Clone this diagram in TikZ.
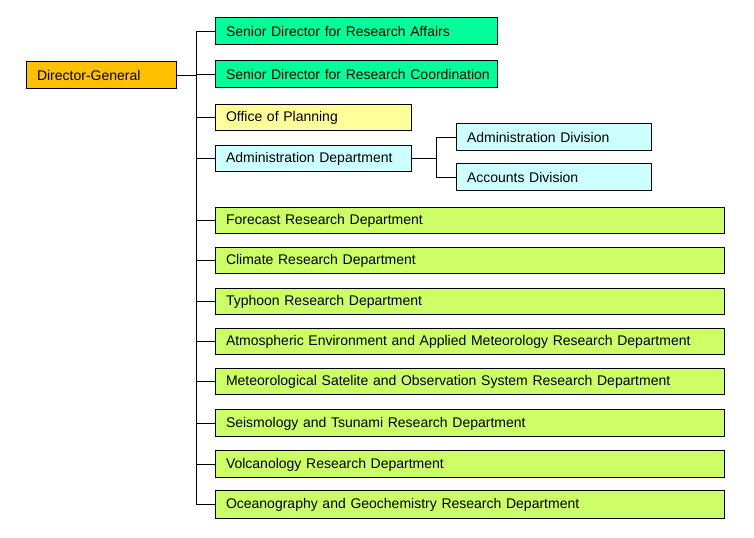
\documentclass[tikz,border=0pt]{standalone}
\usepackage{fontspec}
\setmainfont{Liberation Sans}
\definecolor{cDG}{HTML}{FFC000}
\definecolor{cSD}{HTML}{00FF99}
\definecolor{cOP}{HTML}{FFFF99}
\definecolor{cAD}{HTML}{CCFFFF}
\definecolor{cRD}{HTML}{CCFF66}
\tikzset{
  box/.style={draw=black, line width=0.75pt, anchor=north west, align=left,
    inner xsep=8.25pt, inner ysep=0pt, outer sep=0pt, font=\fontsize{10.5}{12}\selectfont},
  link/.style={draw=black, line width=0.75pt}
}
\newcommand\obox[7]{%
  \pgfmathsetmacro\tw{(#4-#2)*0.75-16.5}%
  \pgfmathsetmacro\th{(#5-#3)*0.75}%
  \node[box, fill=#6, text width=\tw pt, minimum height=\th pt] (#1) at (#2,#3) {\raisebox{-0.5pt}{#7}};}
\begin{document}
\begin{tikzpicture}[x=0.75pt,y=-0.75pt]
\useasboundingbox (0,0) rectangle (754,538);
\obox{dg}{26}{62}{176}{89}{cDG}{Director-General}
\obox{sda}{215}{18}{497}{45}{cSD}{Senior Director for Research Affairs}
\obox{sdc}{215}{61}{497}{88}{cSD}{Senior Director for Research Coordination}
\obox{op}{215}{105}{411}{131}{cOP}{Office of Planning}
\obox{ad}{215}{146}{411}{172}{cAD}{Administration Department}
\obox{adv}{456}{124}{651}{151}{cAD}{Administration Division}
\obox{acc}{456}{164}{651}{191}{cAD}{Accounts Division}
\obox{fr}{215}{208}{724}{234}{cRD}{Forecast Research Department}
\obox{cr}{215}{248}{724}{274}{cRD}{Climate Research Department}
\obox{tr}{215}{289}{724}{315}{cRD}{Typhoon Research Department}
\obox{ae}{215}{329}{724}{355}{cRD}{Atmospheric Environment and Applied Meteorology Research Department}
\obox{ms}{215}{369}{724}{395}{cRD}{Meteorological Satelite and Observation System Research Department}
\obox{st}{215}{410}{724}{437}{cRD}{Seismology and Tsunami Research Department}
\obox{vr}{215}{451}{724}{478}{cRD}{Volcanology Research Department}
\obox{og}{215}{491}{724}{518}{cRD}{Oceanography and Geochemistry Research Department}
\coordinate (trunk) at (196,0);
\coordinate (sub) at (436,0);
\draw[link] (sda.west -| trunk) -- (og.west -| trunk);
\draw[link] (dg.east) -- (dg.east -| trunk);
\foreach \n in {sda,sdc,op,ad,fr,cr,tr,ae,ms,st,vr,og}
  \draw[link] (\n.west) -- (\n.west -| trunk);
\draw[link] (ad.east) -- (ad.east -| sub);
\draw[link] (adv.west -| sub) -- (acc.west -| sub);
\draw[link] (adv.west) -- (adv.west -| sub);
\draw[link] (acc.west) -- (acc.west -| sub);
\end{tikzpicture}
\end{document}
